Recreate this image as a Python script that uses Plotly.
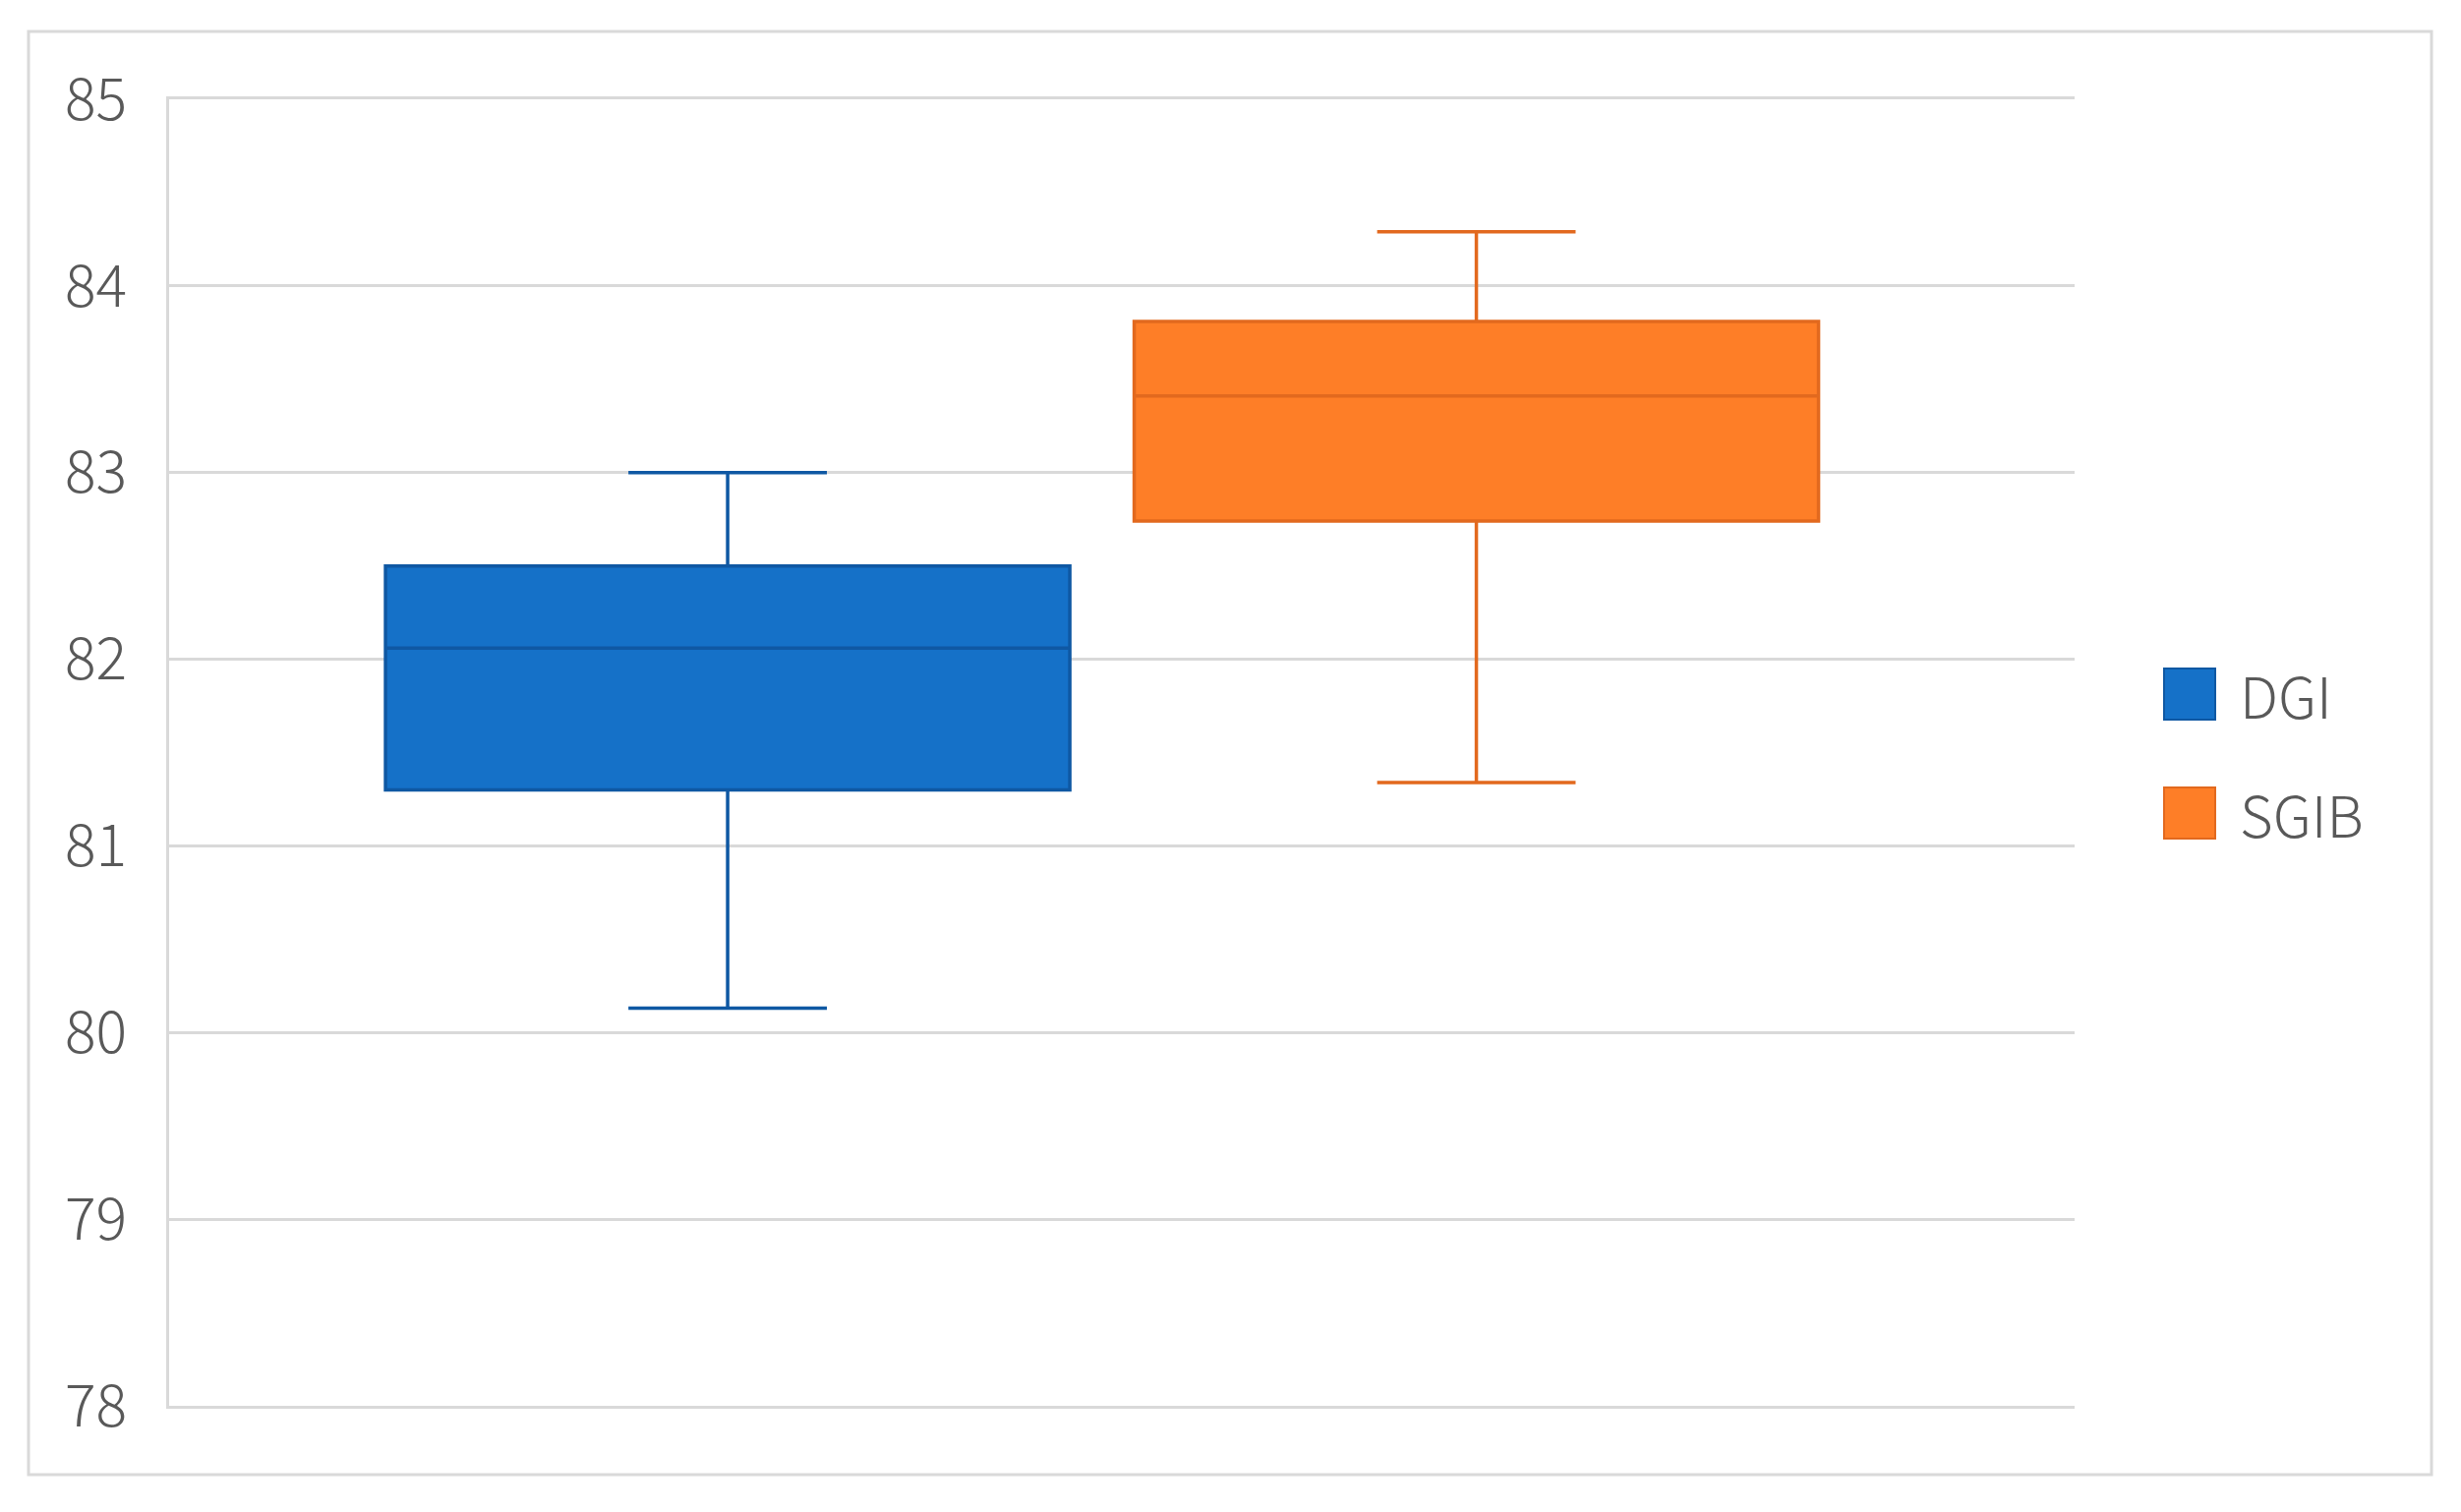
import plotly.graph_objects as go

# box statistics
names = ["DGI", "SGIB"]
q1 = [81.30, 82.74]
medians = [82.06, 83.41]
q3 = [82.50, 83.81]
lower = [80.13, 81.34]
upper = [83.00, 84.29]

fills = ["#1571C8", "#FE7E27"]
edges = ["#0F58A3", "#E2691E"]

OFF = 8  # page body margin
W, H = 2503 - 2 * OFF, 1538 - 2 * OFF
L, R, T, B = 164, 385, 93, 100
pw, ph = W - L - R, H - T - B


def px_x(sx):
    # screen pixel -> paper coordinate
    return (sx - OFF - L) / pw


def px_y(sy):
    return (H - B - (sy - OFF)) / ph


fig = go.Figure()
for i, name in enumerate(names):
    fig.add_trace(go.Box(
        x=[i], name=name,
        q1=[q1[i]], median=[medians[i]], q3=[q3[i]],
        lowerfence=[lower[i]], upperfence=[upper[i]],
        width=0.914, whiskerwidth=0.29,
        fillcolor=fills[i],
        line=dict(color=edges[i], width=3.5),
        showlegend=False, hoverinfo="skip",
    ))

# outer chart frame
shapes = [dict(type="rect", xref="paper", yref="paper",
               x0=px_x(29), x1=px_x(2473), y0=px_y(1500), y1=px_y(32),
               line=dict(color="#d9d9d9", width=3), layer="below")]
annotations = []
# legend drawn by hand so the swatches can be as big as in the original
leg_y = [706, 827]
for i, name in enumerate(names):
    shapes.append(dict(type="rect", xref="paper", yref="paper",
                       x0=px_x(2201), x1=px_x(2253),
                       y0=px_y(leg_y[i] + 26), y1=px_y(leg_y[i] - 26),
                       fillcolor=fills[i], line=dict(color=edges[i], width=2)))
    annotations.append(dict(text=name, xref="paper", yref="paper",
                            x=px_x(2276), y=px_y(leg_y[i]),
                            xanchor="left", yanchor="middle", showarrow=False,
                            font=dict(size=58, color="#595959", weight=300)))

fig.update_layout(
    width=W, height=H,
    margin=dict(l=L, r=R, t=T, b=B),
    paper_bgcolor="white", plot_bgcolor="white",
    font=dict(family="Noto Sans CJK SC", color="#595959"),
    shapes=shapes, annotations=annotations,
    showlegend=False,
)
fig.update_xaxes(range=[-0.746, 1.799], showgrid=False, zeroline=False,
                 showticklabels=False, showline=True, mirror=True,
                 linecolor="#d9d9d9", linewidth=3)
fig.update_yaxes(range=[78, 85], dtick=1, showgrid=True, gridcolor="#d9d9d9",
                 gridwidth=3, zeroline=False, showline=True, linecolor="#d9d9d9",
                 linewidth=3, tickfont=dict(size=59, color="#595959", weight=300),
                 ticks="", ticklabelstandoff=28)

fig.write_html("out.html")
